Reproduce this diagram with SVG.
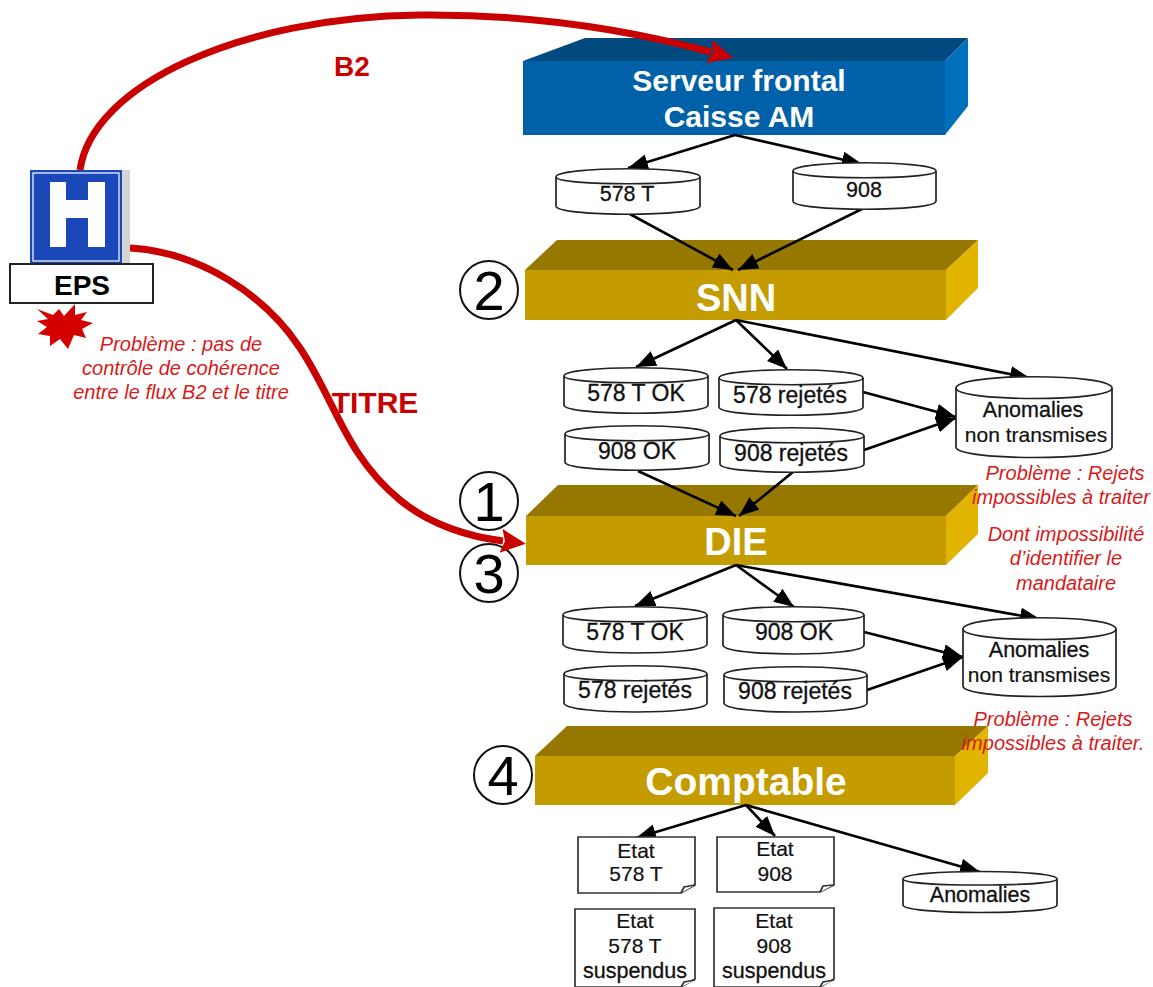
<svg xmlns="http://www.w3.org/2000/svg" width="1153" height="987" viewBox="0 0 1153 987">
<defs>
<marker id="ah" markerUnits="userSpaceOnUse" markerWidth="22" markerHeight="18" refX="20" refY="8" orient="auto"><path d="M0,0 L20,8 L0,16 Z" fill="#000"/></marker>
<marker id="rh" markerUnits="userSpaceOnUse" markerWidth="30" markerHeight="28" refX="2" refY="12" orient="auto"><path d="M0,0 L25,12 L0,24 L4,12 Z" fill="#c80000"/></marker>
</defs>
<style>
text{font-family:"Liberation Sans",Arial,sans-serif;text-anchor:middle}
.c{fill:#fff;stroke:#222;stroke-width:1.7}
.d{fill:#fff;stroke:#333;stroke-width:1.7}
.l{font-size:23px;fill:#111;stroke:#111;stroke-width:.3}
.e{font-size:21.5px;fill:#111;stroke:#111;stroke-width:.3}
.t{font-size:21px;fill:#111;stroke:#111;stroke-width:.2}
.w{font-weight:bold;fill:#fff}
.p{font-size:20px;font-style:italic;fill:#d81a1a}
.cn{fill:none;stroke:#000;stroke-width:2.6;marker-end:url(#ah)}
.r{fill:none;stroke:#c80000;stroke-width:7;marker-end:url(#rh)}
.n{fill:#fff;stroke:#111;stroke-width:2}
.num{font-size:56px;fill:#000}
.gt{fill:#967800}.gf{fill:#c49c00}.gs{fill:#e0b400}
</style>
<rect width="1153" height="987" fill="#fff"/>

<g id="serveur"><path d="M523,61 L585,38 L968,38 L945,61 Z" fill="#004a80"/><rect x="523" y="61" width="422" height="74" fill="#0060a8"/><path d="M945,61 L968,38 L968,106 L945,135 Z" fill="#0070bc"/>
<text class="w" x="739" y="91" font-size="30">Serveur frontal</text><text class="w" x="739" y="127" font-size="30">Caisse AM</text></g>

<g id="snn"><path d="M525,270 L557,240 L978,240 L946,270 Z" class="gt"/><rect x="525" y="270" width="421" height="50" class="gf"/><path d="M946,270 L978,240 L978,288 L946,320 Z" class="gs"/>
<text class="w" x="736" y="311" font-size="38">SNN</text></g>

<g id="die"><path d="M526,516 L558,485 L978,485 L946,516 Z" class="gt"/><rect x="526" y="516" width="420" height="49" class="gf"/><path d="M946,516 L978,485 L978,534 L946,565 Z" class="gs"/>
<text class="w" x="736" y="555" font-size="38">DIE</text></g>

<g id="comptable"><path d="M535,756 L567,726 L988,726 L955,756 Z" class="gt"/><rect x="535" y="756" width="420" height="49" class="gf"/><path d="M955,756 L988,726 L988,773 L955,805 Z" class="gs"/>
<text class="w" x="746" y="795" font-size="39">Comptable</text></g>

<g id="connectors">
<path class="cn" d="M735,135 L628,168"/>
<path class="cn" d="M735,135 L862,164"/>
<path class="cn" d="M628,213 L733,270"/>
<path class="cn" d="M864,208 L738,270"/>
<path class="cn" d="M736,320 L636,367"/>
<path class="cn" d="M736,320 L787,369"/>
<path class="cn" d="M736,320 L1030,378"/>
<path class="cn" d="M863,392 L956,417"/>
<path class="cn" d="M864,450 L956,418"/>
<path class="cn" d="M638,471 L736,516"/>
<path class="cn" d="M793,472 L739,516"/>
<path class="cn" d="M736,565 L635,606"/>
<path class="cn" d="M736,565 L794,607"/>
<path class="cn" d="M736,565 L1040,619"/>
<path class="cn" d="M864,632 L963,657"/>
<path class="cn" d="M867,690 L963,657"/>
<path class="cn" d="M746,805 L636,838"/>
<path class="cn" d="M746,805 L775,836"/>
<path class="cn" d="M746,805 L980,872"/>
</g>

<g id="c578t"><path class="c" d="M556,177 C556,166 700,166 700,177 L700,206 C700,217 556,217 556,206 Z"/><path class="c" fill="none" d="M556,177 C556,186 700,186 700,177"/><text class="e" x="627" y="201">578 T</text></g>
<g id="c908"><path class="c" d="M793,171 C793,160 936,160 936,171 L936,201 C936,212 793,212 793,201 Z"/><path class="c" d="M793,171 C793,180 936,180 936,171"/><text class="e" x="864" y="197">908</text></g>

<g id="c578tok1"><path class="c" d="M564,376 C564,365 708,365 708,376 L708,405 C708,416 564,416 564,405 Z"/><path class="c" d="M564,376 C564,385 708,385 708,376"/><text class="l" x="636" y="401">578 T OK</text></g>
<g id="c578rej1"><path class="c" d="M719,378 C719,367 863,367 863,378 L863,407 C863,418 719,418 719,407 Z"/><path class="c" d="M719,378 C719,387 863,387 863,378"/><text class="l" x="790" y="403">578 rejetés</text></g>
<g id="c908ok1"><path class="c" d="M565,434 C565,423 709,423 709,434 L709,462 C709,473 565,473 565,462 Z"/><path class="c" d="M565,434 C565,443 709,443 709,434"/><text class="l" x="637" y="459">908 OK</text></g>
<g id="c908rej1"><path class="c" d="M720,436 C720,425 864,425 864,436 L864,464 C864,475 720,475 720,464 Z"/><path class="c" d="M720,436 C720,445 864,445 864,436"/><text class="l" x="791" y="461">908 rejetés</text></g>
<g id="anom1"><path class="c" d="M956,388 C956,373 1112,373 1112,388 L1112,447 C1112,461 956,461 956,447 Z"/><path class="c" d="M956,388 C956,402 1112,402 1112,388"/><text class="e" x="1033" y="417">Anomalies</text><text class="t" x="1036" y="442">non transmises</text></g>

<g id="c578tok2"><path class="c" d="M563,615 C563,604 707,604 707,615 L707,644 C707,656 563,656 563,644 Z"/><path class="c" d="M563,615 C563,624 707,624 707,615"/><text class="l" x="635" y="640">578 T OK</text></g>
<g id="c908ok2"><path class="c" d="M723,615 C723,604 864,604 864,615 L864,645 C864,657 723,657 723,645 Z"/><path class="c" d="M723,615 C723,624 864,624 864,615"/><text class="l" x="794" y="640">908 OK</text></g>
<g id="c578rej2"><path class="c" d="M564,674 C564,663 707,663 707,674 L707,703 C707,715 564,715 564,703 Z"/><path class="c" d="M564,674 C564,683 707,683 707,674"/><text class="l" x="635" y="698">578 rejetés</text></g>
<g id="c908rej2"><path class="c" d="M724,675 C724,664 867,664 867,675 L867,703 C867,715 724,715 724,703 Z"/><path class="c" d="M724,675 C724,684 867,684 867,675"/><text class="l" x="795" y="699">908 rejetés</text></g>
<g id="anom2"><path class="c" d="M963,629 C963,614 1116,614 1116,629 L1116,686 C1116,700 963,700 963,686 Z"/><path class="c" d="M963,629 C963,643 1116,643 1116,629"/><text class="e" x="1039" y="657">Anomalies</text><text class="t" x="1039" y="682">non transmises</text></g>

<g id="anom3"><path class="c" d="M903,879 C903,869 1057,869 1057,879 L1057,905 C1057,915 903,915 903,905 Z"/><path class="c" d="M903,879 C903,887 1057,887 1057,879"/><text class="e" x="980" y="902">Anomalies</text></g>

<g id="etat578"><path class="d" d="M578,837 L695,837 L695,885 L681,893 L578,893 Z"/><path class="d" fill="none" d="M681,893 L684,887 L695,885"/><text class="t" x="636" y="858">Etat</text><text class="t" x="636" y="881">578 T</text></g>
<g id="etat908"><path class="d" d="M717,837 L834,837 L834,885 L820,892 L717,892 Z"/><path class="d" d="M820,892 L823,886 L834,885"/><text class="t" x="775" y="856">Etat</text><text class="t" x="775" y="881">908</text></g>
<g id="etat578s"><path class="d" d="M575,909 L695,909 L695,979 L681,987 L575,987 Z"/><path class="d" d="M681,987 L684,982 L695,980"/><text class="t" x="635" y="928">Etat</text><text class="t" x="635" y="953">578 T</text><text class="e" x="635" y="978">suspendus</text></g>
<g id="etat908s"><path class="d" d="M714,908 L834,908 L834,979 L820,987 L714,987 Z"/><path class="d" d="M820,987 L823,982 L834,980"/><text class="t" x="774" y="928">Etat</text><text class="t" x="774" y="953">908</text><text class="e" x="774" y="978">suspendus</text></g>

<g id="num2"><circle class="n" cx="489" cy="290" r="29"/><text class="num" x="489" y="310">2</text></g>
<g id="num1"><circle class="n" cx="489" cy="501" r="29"/><text class="num" x="489" y="521">1</text></g>
<g id="num3"><circle class="n" cx="489" cy="573" r="29"/><text class="num" x="489" y="593">3</text></g>
<g id="num4"><circle class="n" cx="503" cy="775" r="29"/><text class="num" x="503" y="795">4</text></g>

<g id="flows">
<path class="r" d="M80,170 C92,85 240,17 420,15 C530,14 630,30 711,52"/>
<path class="r" d="M130,248 C200,252 265,295 300,348 C335,400 345,455 400,500 C430,525 470,537 503,541"/>
<text x="352" y="76" font-size="28" font-weight="bold" fill="#c80000">B2</text>
<text x="375" y="413" font-size="30" font-weight="bold" fill="#c80000">TITRE</text>
</g>

<g id="eps">
<rect x="122" y="170" width="8" height="94" fill="#d4d4d4"/>
<rect x="30" y="170" width="92" height="94" fill="#1a48b8"/>
<rect x="33" y="173" width="86" height="88" fill="none" stroke="#fff" stroke-width="1.2"/>
<path d="M50,182 L66,182 L66,200 L88,200 L88,182 L105,182 L105,247 L88,247 L88,218 L66,218 L66,247 L50,247 Z" fill="#fff"/>
<rect x="10" y="264" width="143" height="39" fill="#fff" stroke="#222" stroke-width="2"/>
<text x="82" y="295" font-size="28" font-weight="bold" fill="#000">EPS</text>
</g>

<path id="burst" fill="#d40000" d="M37,309 L53,315 L59,309 L64,316 L75,304 L75,315 L87,312 L81,320 L93,323 L82,329 L86,338 L74,335 L68,349 L60,339 L50,346 L50,336 L38,334 L47,327 L37,321 L48,319 Z"/>

<g id="notes">
<text class="p" x="181" y="351">Problème : pas de</text>
<text class="p" x="181" y="375">contrôle de cohérence</text>
<text class="p" x="181" y="399">entre le flux B2 et le titre</text>
<text class="p" x="1065" y="480">Problème : Rejets</text>
<text class="p" x="1061" y="504">impossibles à traiter</text>
<text class="p" x="1066" y="541">Dont impossibilité</text>
<text class="p" x="1066" y="565">d’identifier le</text>
<text class="p" x="1066" y="590">mandataire</text>
<text class="p" x="1053" y="726">Problème : Rejets</text>
<text class="p" x="1053" y="750">impossibles à traiter.</text>
</g>
</svg>
